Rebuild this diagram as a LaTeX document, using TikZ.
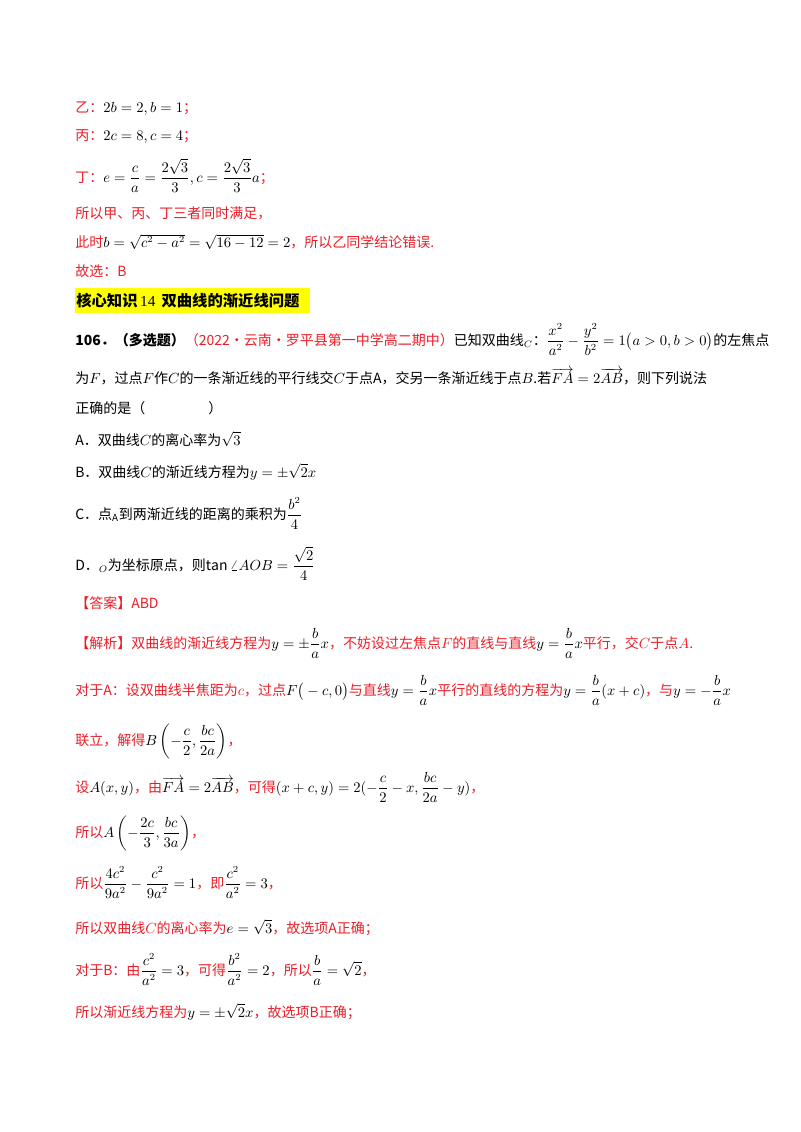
\documentclass[tikz,border=0pt]{standalone}
\usepackage{fontspec}
\usepackage{amsmath}
\setmainfont{Noto Sans CJK SC}
\newfontfamily\serifl{Liberation Serif}
\definecolor{rd}{RGB}{235,30,40}
\definecolor{hl}{RGB}{255,255,0}
\begin{document}
\begin{tikzpicture}[x=0.75pt,y=-0.75pt,
  ln/.style={anchor=base west,inner sep=0pt,font=\fontsize{10.5}{12}\selectfont},
  rl/.style={ln,text=rd}]
\useasboundingbox[fill=white] (0,0) rectangle (800,1132);
\node[rl] (l1) at (75,112) {乙：\textcolor{black}{$2b=2,b=1$}；};
\node[rl] (l2) at (75,140) {丙：\textcolor{black}{$2c=8,c=4$}；};
\node[rl] (l3) at (75,182) {丁：\textcolor{black}{$e=\dfrac{c}{a}=\dfrac{2\sqrt3}{3},c=\dfrac{2\sqrt3}{3}a$}；};
\node[rl] (l4) at (75,218) {所以甲、丙、丁三者同时满足，};
\node[rl] (l5) at (75,247) {此时\textcolor{black}{$b=\sqrt{c^2-a^2}=\sqrt{16-12}=2$}，所以乙同学结论错误.};
\node[rl] (l6) at (75,276) {故选：B};
\fill[hl] (75,288) rectangle (310,313);
\node[ln,font=\fontsize{11.5}{13}\selectfont\bfseries] (h) at (76,306) {核心知识{\serifl\mdseries\,14\,} 双曲线的渐近线问题};
\node[ln] (q1) at (75,345) {\textbf{106．（多选题）}\textcolor{rd}{（2022·云南·罗平县第一中学高二期中）}已知双曲线$_C$：$\dfrac{x^2}{a^2}-\dfrac{y^2}{b^2}=1\big(a>0,b>0\big)$的左焦点};
\node[ln] (q2) at (75,383) {为$F$，过点$F$作$C$的一条渐近线的平行线交$C$于点A，交另一条渐近线于点$B$.若$\overrightarrow{FA}=2\overrightarrow{AB}$，则下列说法};
\node[ln] (q3) at (75,413) {正确的是（\hspace{4.5em}）};
\node[ln] (oa) at (75,445) {A．双曲线$C$的离心率为$\sqrt3$};
\node[ln] (ob) at (75,477) {B．双曲线$C$的渐近线方程为$y=\pm\sqrt2x$};
\node[ln] (oc) at (75,519) {C．点$_{\mathrm A}$到两渐近线的距离的乘积为$\dfrac{b^2}{4}$};
\node[ln] (od) at (75,570) {D．$_O$为坐标原点，则$\tan\angle AOB=\dfrac{\sqrt2}{4}$};
\node[rl] (ans) at (75,608) {【答案】ABD};
\node[rl] (s1) at (75,648) {【解析】双曲线的渐近线方程为\textcolor{black}{$y=\pm\dfrac{b}{a}x$}，不妨设过左焦点$F$的直线与直线\textcolor{black}{$y=\dfrac{b}{a}x$}平行，交$C$于点$A$.};
\node[rl] (s2) at (75,695) {对于A：设双曲线半焦距为$c$，过点\textcolor{black}{$F\big(-c,0\big)$}与直线\textcolor{black}{$y=\dfrac{b}{a}x$}平行的直线的方程为\textcolor{black}{$y=\dfrac{b}{a}(x+c)$}，与\textcolor{black}{$y=-\dfrac{b}{a}x$}};
\node[rl] (s3) at (75,745) {联立，解得\textcolor{black}{$B\left(-\dfrac{c}{2},\dfrac{bc}{2a}\right)$}，};
\node[rl] (s4) at (75,792) {设\textcolor{black}{$A(x,y)$}，由\textcolor{black}{$\overrightarrow{FA}=2\overrightarrow{AB}$}，可得\textcolor{black}{$(x+c,y)=2(-\dfrac{c}{2}-x,\dfrac{bc}{2a}-y)$}，};
\node[rl] (s5) at (75,837) {所以\textcolor{black}{$A\left(-\dfrac{2c}{3},\dfrac{bc}{3a}\right)$}，};
\node[rl] (s6) at (75,888) {所以\textcolor{black}{$\dfrac{4c^2}{9a^2}-\dfrac{c^2}{9a^2}=1$}，即\textcolor{black}{$\dfrac{c^2}{a^2}=3$}，};
\node[rl] (s7) at (75,933) {所以双曲线$C$的离心率为\textcolor{black}{$e=\sqrt3$}，故选项A正确；};
\node[rl] (s8) at (75,975) {对于B：由\textcolor{black}{$\dfrac{c^2}{a^2}=3$}，可得\textcolor{black}{$\dfrac{b^2}{a^2}=2$}，所以\textcolor{black}{$\dfrac{b}{a}=\sqrt2$}，};
\node[rl] (s9) at (75,1017) {所以渐近线方程为\textcolor{black}{$y=\pm\sqrt2x$}，故选项B正确；};
\end{tikzpicture}
\end{document}
